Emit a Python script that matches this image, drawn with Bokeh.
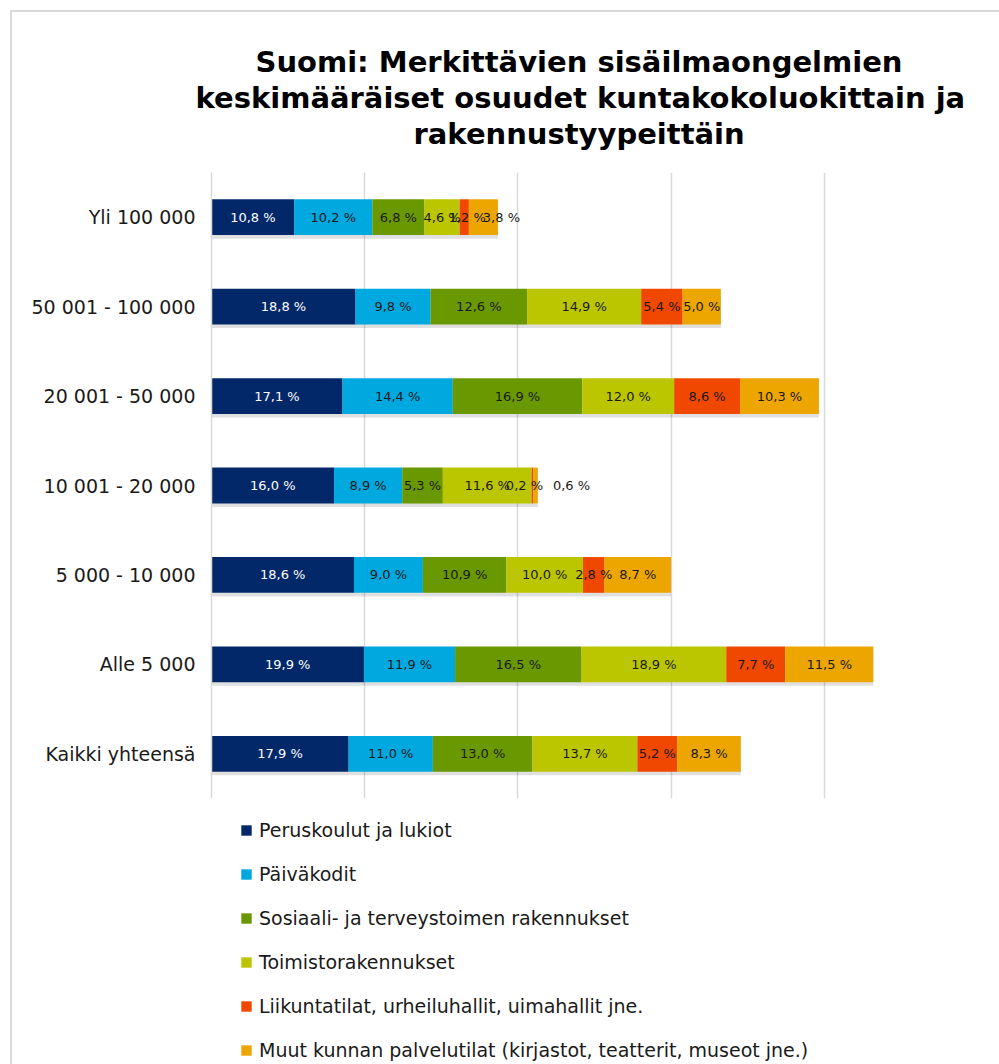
from bokeh.plotting import figure
from bokeh.layouts import column
from bokeh.models import (ColumnDataSource, FactorRange, FixedTicker, Legend,
                          LegendItem, Range1d, LabelSet, Title)
from bokeh.core.properties import value
from bokeh.transform import dodge
from bokeh.embed import file_html
from bokeh.resources import INLINE

# ---- data ----
categories = ["Yli 100 000", "50 001 - 100 000", "20 001 - 50 000", "10 001 - 20 000",
              "5 000 - 10 000", "Alle 5 000", "Kaikki yhteensä"]
series_names = ["Peruskoulut ja lukiot", "Päiväkodit", "Sosiaali- ja terveystoimen rakennukset",
                "Toimistorakennukset", "Liikuntatilat, urheiluhallit, uimahallit jne.",
                "Muut kunnan palvelutilat (kirjastot, teatterit, museot jne.)"]
peruskoulut = [10.8, 18.8, 17.1, 16.0, 18.6, 19.9, 17.9]
paivakodit = [10.2, 9.8, 14.4, 8.9, 9.0, 11.9, 11.0]
sosiaali = [6.8, 12.6, 16.9, 5.3, 10.9, 16.5, 13.0]
toimisto = [4.6, 14.9, 12.0, 11.6, 10.0, 18.9, 13.7]
liikunta = [1.2, 5.4, 8.6, 0.2, 2.8, 7.7, 5.2]
muut = [3.8, 5.0, 10.3, 0.6, 8.7, 11.5, 8.3]
series_values = [peruskoulut, paivakodit, sosiaali, toimisto, liikunta, muut]
title_lines = ["Suomi: Merkittävien sisäilmaongelmien",
               "keskimääräiset osuudet kuntakokoluokittain ja",
               "rakennustyypeittäin"]

# ---- style ----
colors = ["#03286a", "#00a8e0", "#6a9800", "#bcc600", "#f04800", "#eda600"]
label_colors = ["#ffffff", "#1a1a1a", "#1a1a1a", "#1a1a1a", "#1a1a1a", "#1a1a1a"]
# pixel nudges for crowded labels (category index, series index) -> px
nudges = {(0, 4): 3, (0, 5): 18, (3, 4): -8, (3, 5): 36}
title_offsets = [44, -16, 202]
FONT = "DejaVu Sans"
GRID = "#d9d9d9"

p = figure(width=999, height=798, output_backend="svg", toolbar_location=None,
           y_range=FactorRange(factors=list(reversed(categories))),
           x_range=Range1d(0, 100),
           min_border_left=211, min_border_right=22, min_border_top=172,
           min_border_bottom=0)
p.frame_align = False
p.outline_line_color = None
p.background_fill_color = None
p.border_fill_color = None

p.xaxis.visible = False
p.xgrid.ticker = FixedTicker(ticks=[0, 20, 40, 60, 80, 100])
p.xgrid.grid_line_color = GRID
p.xgrid.grid_line_width = 1.5
p.ygrid.grid_line_color = None

ya = p.yaxis[0]
ya.axis_line_color = GRID
ya.axis_line_width = 1.5
ya.major_tick_line_color = None
ya.minor_tick_line_color = None
ya.major_tick_out = 0
ya.major_tick_in = 0
ya.major_label_text_font = FONT
ya.major_label_text_font_size = "19px"
ya.major_label_text_color = "#1a1a1a"
ya.major_label_standoff = 16

# totals & shadow
totals = [sum(v[i] for v in series_values) for i in range(len(categories))]
shadow_src = ColumnDataSource(dict(cat=categories, total=totals))
p.hbar(y=dodge("cat", -0.04, range=p.y_range), left=0, right="total", height=0.40,
       source=shadow_src, fill_color="#000000", fill_alpha=0.12, line_color=None)

cum = [0.0] * len(categories)
for si, (name, vals) in enumerate(zip(series_names, series_values)):
    left = cum[:]
    right = [l + v for l, v in zip(left, vals)]
    mid = [(l + r) / 2 for l, r in zip(left, right)]
    labels = [("%.1f %%" % v).replace(".", ",") for v in vals]
    offs = [nudges.get((ci, si), 0) for ci in range(len(categories))]
    src = ColumnDataSource(dict(cat=categories, left=left, right=right, mid=mid,
                                lab=labels, off=offs))
    p.hbar(y="cat", left="left", right="right", height=0.40, source=src,
           fill_color=colors[si], line_color=None)
    p.add_layout(LabelSet(x="mid", y="cat", text="lab", source=src, x_offset="off",
                          text_align="center", text_baseline="middle",
                          text_font=value(FONT), text_font_size="13px",
                          text_color=label_colors[si]))
    cum = right

# title (panels stack outward from the frame: spacer first, top line last)
p.add_layout(Title(text=" ", text_font_size="10px", standoff=9), "above")
for txt, off in reversed(list(zip(title_lines, title_offsets))):
    p.add_layout(Title(text=txt, align="left", offset=off, standoff=0,
                       text_font=FONT, text_font_style="bold",
                       text_font_size="29px", text_color="#000000"), "above")

# legend figure: its frame is where the legend sits; the swatch renderers
# carry the series values but lie outside this figure's visible range
lg = figure(width=999, height=266, output_backend="svg", toolbar_location=None,
            x_range=Range1d(-2, -1), y_range=Range1d(-2, -1),
            x_axis_type=None, y_axis_type=None,
            min_border_left=233, min_border_top=18, min_border_right=0,
            min_border_bottom=0)
lg.frame_align = False
lg.outline_line_color = None
lg.background_fill_color = None
lg.border_fill_color = None
items = []
for name, c, vals in zip(series_names, colors, series_values):
    r = lg.scatter(x=vals, y=vals, marker="square", size=11,
                   fill_color=c, line_color=None)
    items.append(LegendItem(label=name, renderers=[r]))
legend = Legend(items=items, location="top_left", orientation="vertical",
                padding=0, margin=0, spacing=16, label_height=28,
                glyph_height=28, glyph_width=26, label_standoff=0,
                label_text_font=FONT, label_text_font_size="19px",
                label_text_color="#1a1a1a",
                border_line_color=None, background_fill_alpha=0)
lg.add_layout(legend)

layout = column(p, lg, spacing=0, styles={
    "background-color": "white",
    "background-image": "linear-gradient(#d9d9d9, #d9d9d9), linear-gradient(#d9d9d9, #d9d9d9)",
    "background-position": "10px 10px, 10px 10px",
    "background-size": "2px 100%, 100% 2px",
    "background-repeat": "no-repeat",
})

open("out.html", "w").write(file_html(layout, INLINE))
